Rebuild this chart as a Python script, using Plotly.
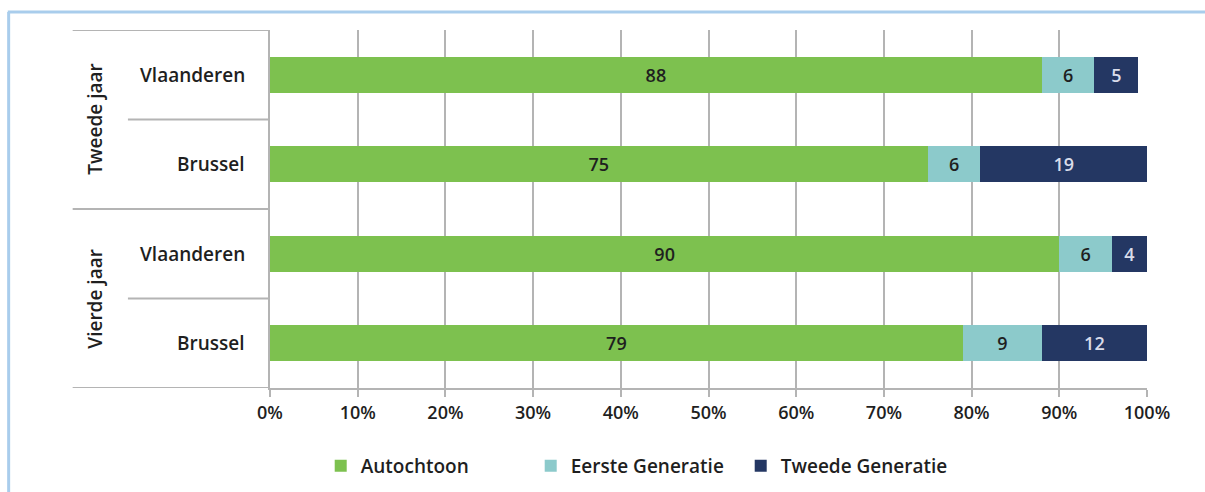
import plotly.graph_objects as go

# Survey groups (top to bottom) and their shares per origin group, in %
groups = ["Tweede jaar", "Vierde jaar"]
regions = ["Vlaanderen", "Brussel", "Vlaanderen", "Brussel"]
autochtoon = [88, 75, 90, 79]
eerste_generatie = [6, 6, 6, 9]
tweede_generatie = [5, 19, 4, 12]
x_ticks = [0, 10, 20, 30, 40, 50, 60, 70, 80, 90, 100]
x_tick_labels = [f"{v}%" for v in x_ticks]

FONT = "Open Sans"
W = 600
GRID = "#b4b4b4"
TXT = "#1f1f1f"
rows = list(range(len(regions)))

fig = go.Figure()
series = [
    ("Autochtoon", autochtoon, "#7dc14f", TXT),
    ("Eerste Generatie", eerste_generatie, "#8ccacb", TXT),
    ("Tweede Generatie", tweede_generatie, "#243763", "#d9dcea"),
]
for name, vals, color, tcolor in series:
    fig.add_trace(go.Bar(
        name=name, y=rows, x=vals, orientation="h", width=0.4,
        marker=dict(color=color, line=dict(width=0)),
        text=[str(v) for v in vals], textposition="inside",
        insidetextanchor="middle", constraintext="none",
        textfont=dict(family=FONT, size=18, color=tcolor, weight=W),
    ))

# Category block on the left: separators and labels
shapes = []
for yv in (-0.5, 1.5, 3.5):
    shapes.append(dict(type="line", xref="paper", yref="y", x0=-0.225, x1=0,
                       y0=yv, y1=yv, line=dict(color=GRID, width=2)))
for yv in (0.5, 2.5):
    shapes.append(dict(type="line", xref="paper", yref="y", x0=-0.162, x1=0,
                       y0=yv, y1=yv, line=dict(color=GRID, width=2)))
# outer frame lines of the page
shapes.append(dict(type="line", xref="paper", yref="paper", x0=-0.299, x1=1.1,
                   y0=1.05, y1=1.05, line=dict(color="#a9cdec", width=3)))
shapes.append(dict(type="line", xref="paper", yref="paper", x0=-0.298, x1=-0.298,
                   y0=1.05, y1=-0.4, line=dict(color="#a9cdec", width=3)))

annotations = []
for i, r in enumerate(regions):
    annotations.append(dict(xref="paper", yref="y", x=0, y=i, xshift=-23,
                            xanchor="right", yanchor="middle", showarrow=False,
                            text=r, font=dict(family=FONT, size=19, color=TXT, weight=W)))
for g, yc in zip(groups, (0.5, 2.5)):
    annotations.append(dict(xref="paper", yref="y", x=-0.2005, y=yc, textangle=-90,
                            xanchor="center", yanchor="middle", showarrow=False,
                            text=g, font=dict(family=FONT, size=19, color=TXT, weight=W)))

fig.update_layout(
    width=1205, height=492,
    margin=dict(l=270, r=58, t=30, b=104),
    paper_bgcolor="white", plot_bgcolor="white",
    barmode="stack", bargap=0.6,
    shapes=shapes, annotations=annotations,
    font=dict(family=FONT, size=18, color=TXT),
    legend=dict(orientation="h", x=0.417, xanchor="center",
                yref="container", y=0.053, yanchor="middle",
                font=dict(family=FONT, size=19, color=TXT, weight=W),
                traceorder="normal", itemwidth=30,
                entrywidth=165, entrywidthmode="pixels"),
    xaxis=dict(range=[0, 100], tickvals=x_ticks, ticktext=x_tick_labels,
               showgrid=True, gridcolor=GRID, gridwidth=2,
               showline=True, linecolor=GRID, linewidth=2,
               ticks="outside", ticklen=7, tickcolor=GRID, tickwidth=2,
               zeroline=False, tickfont=dict(family=FONT, size=18, color=TXT, weight=W)),
    yaxis=dict(range=[3.5, -0.5], showticklabels=False, showgrid=False,
               zeroline=False, showline=True, linecolor=GRID, linewidth=2, ticks=""),
)

fig.write_html("out.html")
